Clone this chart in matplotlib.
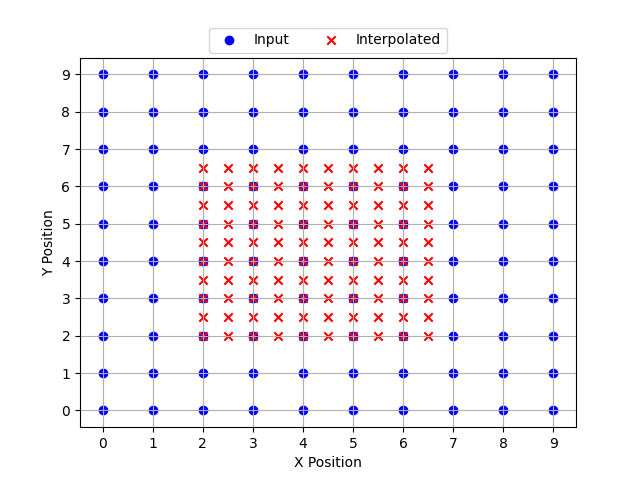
import matplotlib
matplotlib.use("Agg")
import matplotlib.pyplot as plt
import numpy as np

input_x_vals = [0, 1, 2, 3, 4, 5, 6, 7, 8, 9]
input_y_vals = [0, 1, 2, 3, 4, 5, 6, 7, 8, 9]
interp_x_vals = [2.0, 2.5, 3.0, 3.5, 4.0, 4.5, 5.0, 5.5, 6.0, 6.5]
interp_y_vals = [2.0, 2.5, 3.0, 3.5, 4.0, 4.5, 5.0, 5.5, 6.0, 6.5]

ix, iy = np.meshgrid(input_x_vals, input_y_vals)
px, py = np.meshgrid(interp_x_vals, interp_y_vals)

fig, ax = plt.subplots(figsize=(6.4, 4.8), dpi=100)
ax.scatter(ix.ravel(), iy.ravel(), c='blue', marker='o', label='Input')
ax.scatter(px.ravel(), py.ravel(), c='red', marker='x', label='Interpolated')
ax.set_xlabel('X Position')
ax.set_ylabel('Y Position')
ax.set_xticks(input_x_vals)
ax.set_yticks(input_y_vals)
ax.grid(True)
ax.legend(loc='upper center', bbox_to_anchor=(0.5, 1.1), ncol=2)
fig.savefig('out.png')
